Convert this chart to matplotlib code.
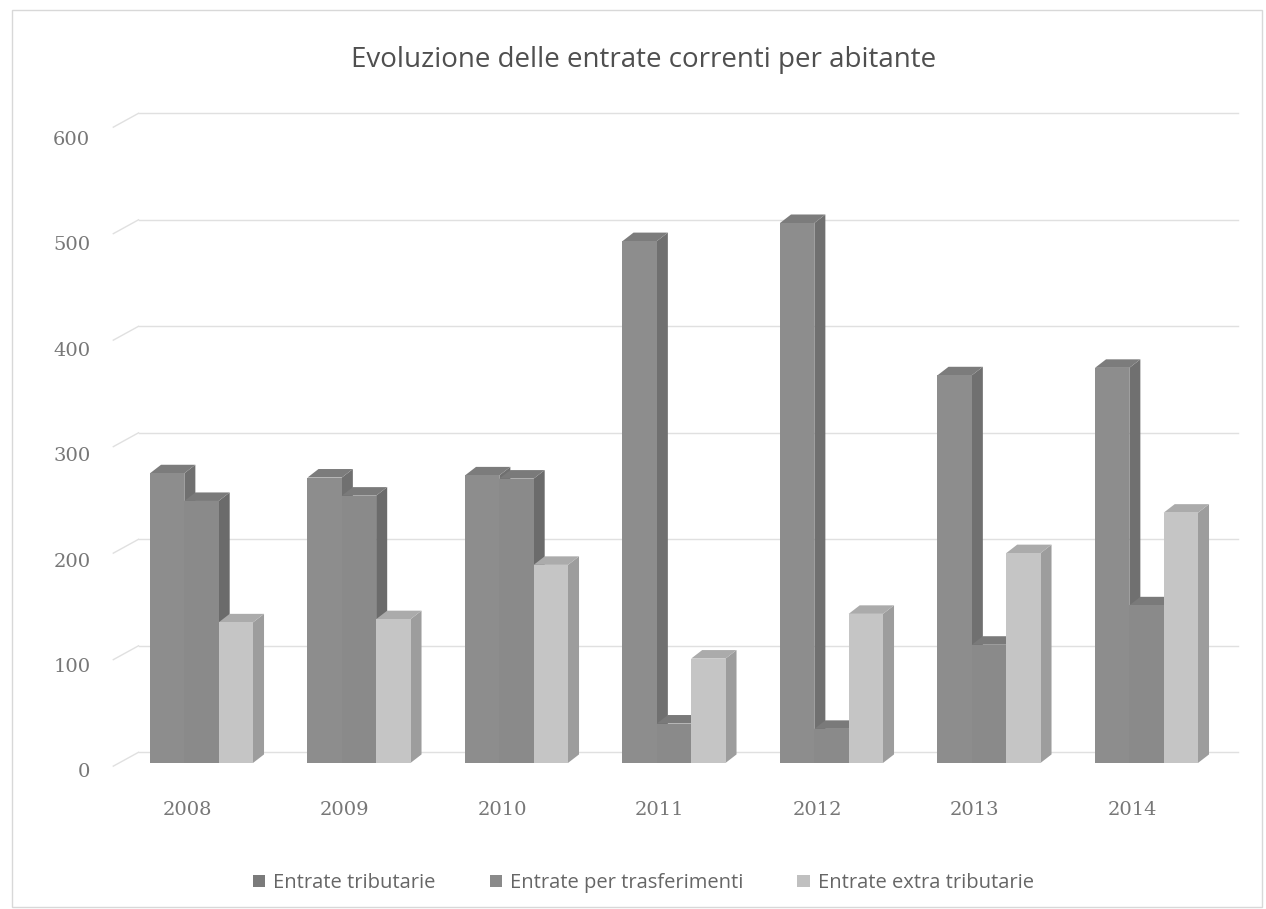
import numpy as np
import matplotlib.pyplot as plt
from matplotlib.patches import Polygon, Rectangle

anni = ['2008', '2009', '2010', '2011', '2012', '2013', '2014']
tributarie = [272, 268, 270, 490, 507, 364, 371]
trasferimenti = [246, 251, 267, 37, 32, 111, 148]
extra_tributarie = [132, 135, 186, 98, 140, 197, 235]
serie_nomi = ['Entrate tributarie', 'Entrate per trasferimenti', 'Entrate extra tributarie']
y_ticks = [0, 100, 200, 300, 400, 500, 600]

# front, side, top colours for each series (scanned greyscale look)
colori = [('#8d8d8d', '#707070', '#7c7c7c'),
          ('#8a8a8a', '#6b6b6b', '#7a7a7a'),
          ('#c5c5c5', '#9d9d9d', '#ababab')]
legenda_col = ['#7b7b7b', '#8a8a8a', '#c0c0c0']

W, H = 1266, 909
fig = plt.figure(figsize=(W / 100, H / 100), dpi=100)
fig.patch.set_facecolor('white')
ax = fig.add_axes([107 / W, (H - 773.6) / H, 1134 / W, 665.6 / H])
ax.set_xlim(-0.6, 6.6)
ax.set_ylim(-10, 615)
for s in ax.spines.values():
    s.set_visible(False)

bw = 0.218     # bar width in category units
dx, dy = 0.07, 8   # oblique depth of the 3D faces
gdy = 10       # back wall offset for gridlines

# gridlines on the back wall and the slanted left wall
for v in y_ticks:
    ax.plot([-0.56, -0.40], [v - 3, v + gdy], color='#e0e0e0', lw=1, zorder=0)
    ax.plot([-0.40, 6.58], [v + gdy, v + gdy], color='#e0e0e0', lw=1, zorder=0)

x = np.arange(len(anni))
serie = [tributarie, trasferimenti, extra_tributarie]
for i in range(len(anni)):
    for k, vals in enumerate(serie):
        h = vals[i]
        L = x[i] - 1.5 * bw + k * bw
        R = L + bw
        front, side, top = colori[k]
        z = 2 + i * 0.01 + k * 0.001
        ax.add_patch(Polygon([(R, 0), (R + dx, dy), (R + dx, h + dy), (R, h)],
                             closed=True, fc=side, ec='none', zorder=z))
        ax.add_patch(Polygon([(L, h), (R, h), (R + dx, h + dy), (L + dx, h + dy)],
                             closed=True, fc=top, ec='none', zorder=z))
        ax.bar(L, h, width=bw, align='edge', color=front, edgecolor='none', zorder=z)

ax.set_yticks([v - 7 - 0.01 * v for v in y_ticks])
ax.set_yticklabels([str(v) for v in y_ticks])
ax.set_xticks(x - 0.09)
ax.set_xticklabels(anni)
ax.tick_params(length=0)
for lab in ax.get_yticklabels() + ax.get_xticklabels():
    lab.set_fontfamily('DejaVu Serif')
    lab.set_fontsize(14)
    lab.set_color('#777777')
ax.tick_params(axis='y', pad=12)
ax.tick_params(axis='x', pad=20)

fig.text(0.508, 1 - 60 / H, 'Evoluzione delle entrate correnti per abitante',
         ha='center', va='center', fontsize=20, family='Open Sans', color='#4f4f4f')

handles = [Rectangle((0, 0), 1, 1, fc=c, ec='none') for c in legenda_col]
fig.legend(handles, serie_nomi, loc='center', bbox_to_anchor=(0.508, 1 - 883 / H),
           ncol=3, frameon=False, prop={'family': 'Open Sans', 'size': 14.5},
           labelcolor='#666666', handlelength=0.6, handleheight=0.6,
           handletextpad=0.4, columnspacing=2.7)

fig.add_artist(Rectangle((12 / W, 2 / H), (W - 16) / W, (H - 12) / H,
                         transform=fig.transFigure, fill=False, ec='#d8d8d8', lw=1))

fig.savefig('out.png', dpi=100, facecolor='white')
